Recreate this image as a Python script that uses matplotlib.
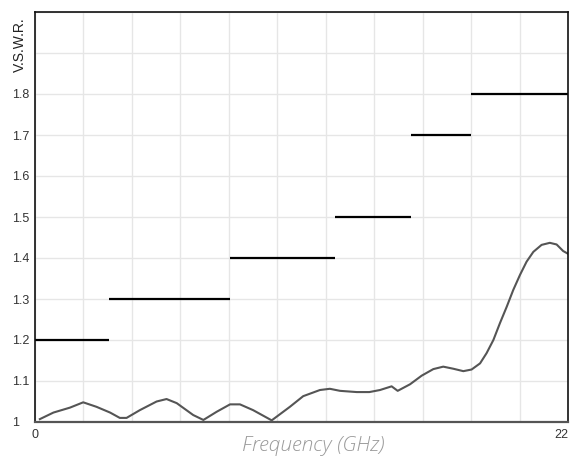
import matplotlib
matplotlib.use('Agg')
import matplotlib.pyplot as plt
import numpy as np

# VSWR limit steps (x start, x end, level)
limit_start = [0, 3.05, 8.05, 12.4, 15.5, 18.0]
limit_end = [3.05, 8.05, 12.4, 15.5, 18.0, 22]
limit_level = [1.2, 1.3, 1.4, 1.5, 1.7, 1.8]

# measured VSWR curve
freq = [0.2, 0.76, 1.44, 1.99, 2.54, 3.1, 3.5, 3.78, 4.33, 5.02, 5.43, 5.85,
        6.53, 6.95, 7.5, 8.05, 8.46, 9.0, 9.77, 10.52, 11.07, 11.76, 12.17,
        12.59, 13.28, 13.8, 14.24, 14.72, 14.97, 15.48, 15.96, 16.44, 16.85,
        17.26, 17.68, 18.02, 18.37, 18.64, 18.92, 19.19, 19.47, 19.74, 20.02,
        20.29, 20.57, 20.91, 21.25, 21.53, 21.8, 21.98]
vswr = [1.007, 1.023, 1.035, 1.048, 1.037, 1.023, 1.01, 1.01, 1.029, 1.05,
        1.056, 1.046, 1.017, 1.005, 1.025, 1.043, 1.043, 1.029, 1.004, 1.037,
        1.063, 1.078, 1.081, 1.076, 1.073, 1.073, 1.078, 1.087, 1.076, 1.092,
        1.113, 1.129, 1.135, 1.13, 1.124, 1.128, 1.143, 1.168, 1.2, 1.241,
        1.281, 1.322, 1.359, 1.391, 1.415, 1.432, 1.437, 1.433, 1.417, 1.411]

yticks = [1, 1.1, 1.2, 1.3, 1.4, 1.5, 1.6, 1.7, 1.8, 1.9, 2.0]
ylabels = ['1', '1.1', '1.2', '1.3', '1.4', '1.5', '1.6', '1.7', '1.8', '', '']

fig = plt.figure(figsize=(5.79, 4.63), dpi=100)
ax = fig.add_axes([35/579, 41/463, 533/579, 410/463])

ax.set_xlim(0, 22)
ax.set_ylim(1, 2)
ax.set_xticks(np.arange(0, 23, 2))
ax.set_xticklabels(['0'] + [''] * 10 + ['22'])
ax.set_yticks(yticks)
ax.set_yticklabels(ylabels, ha='left')
ax.grid(True, color='#e6e6e6', linewidth=1)
ax.set_axisbelow(True)
ax.tick_params(length=0, labelsize=9, labelcolor='#333333')
ax.tick_params(axis='y', pad=16.5)
ax.tick_params(axis='x', pad=5)
for lab in ax.get_xticklabels() + ax.get_yticklabels():
    lab.set_family('Liberation Sans')
ax.get_xticklabels()[-1].set_ha('right')

for s in ['left', 'top', 'right']:
    ax.spines[s].set_color('#111111')
    ax.spines[s].set_linewidth(1.2)
ax.spines['bottom'].set_color('#555555')
ax.spines['bottom'].set_linewidth(1.6)

ax.hlines(limit_level, limit_start, limit_end, colors='black', linewidth=1.6)
ax.plot(freq, vswr, color='#555555', linewidth=1.5)

ax.text(-0.028, 0.92, 'V.S.W.R.', transform=ax.transAxes, rotation=90,
        ha='center', va='center', fontsize=10, color='#222222',
        family='Liberation Sans')
fig.text(313/579, 1 - 446/463, 'Frequency (GHz)', fontsize=15, color='#9a9a9a',
         style='italic', family='Open Sans', fontweight='light',
         ha='center', va='center')

fig.savefig('out.png', dpi=100)
